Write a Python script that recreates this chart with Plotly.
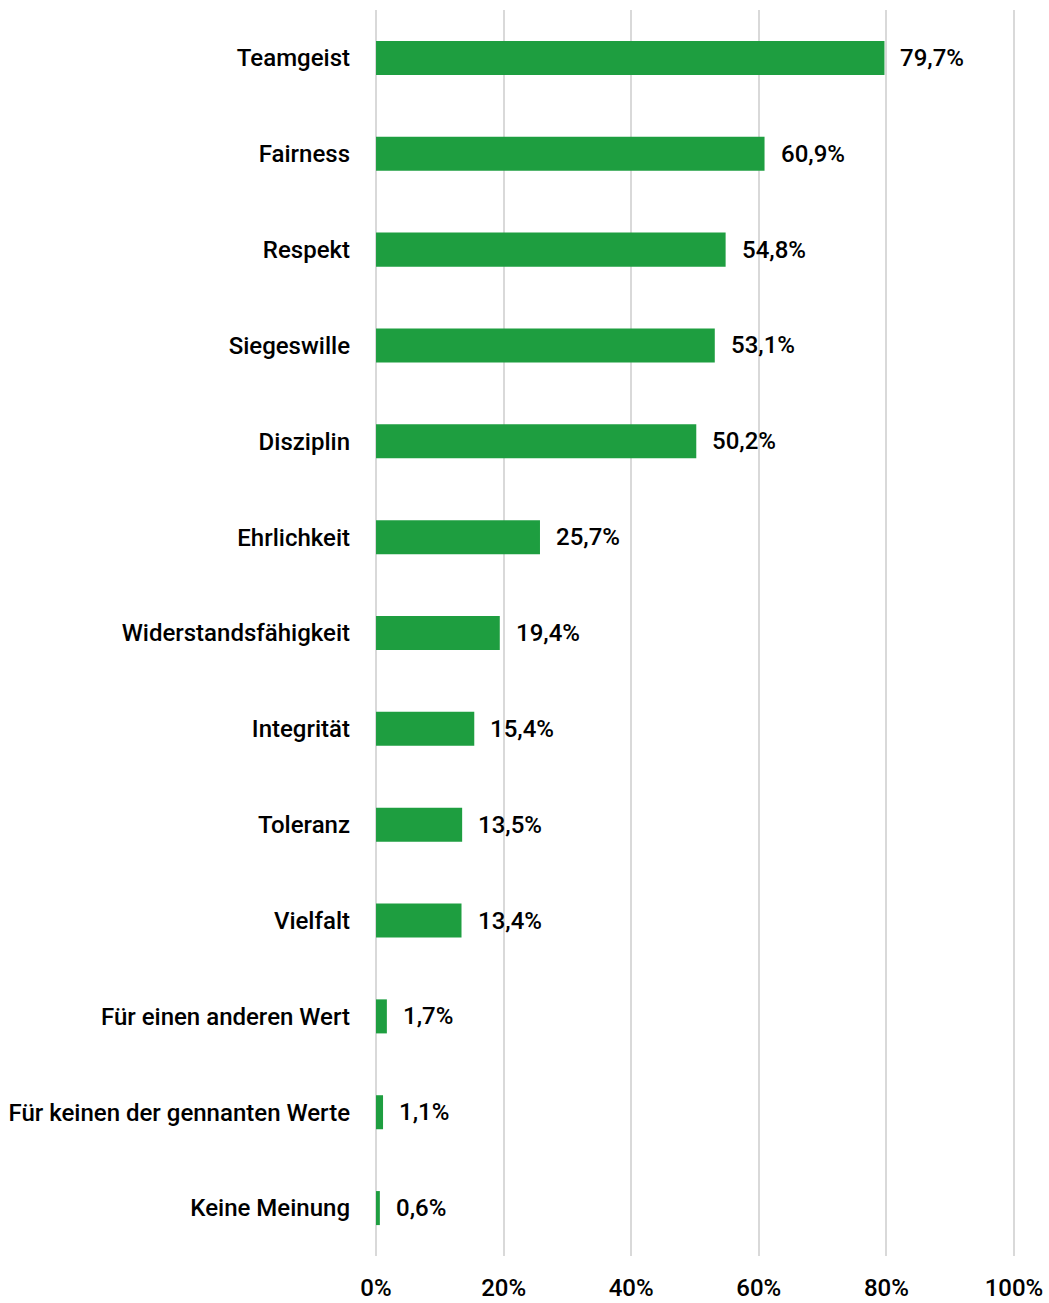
import plotly.graph_objects as go

categories = ["Teamgeist", "Fairness", "Respekt", "Siegeswille", "Disziplin", "Ehrlichkeit",
              "Widerstandsfähigkeit", "Integrität", "Toleranz", "Vielfalt",
              "Für einen anderen Wert", "Für keinen der gennanten Werte", "Keine Meinung"]
values = [79.7, 60.9, 54.8, 53.1, 50.2, 25.7, 19.4, 15.4, 13.5, 13.4, 1.7, 1.1, 0.6]
value_labels = ["79,7%", "60,9%", "54,8%", "53,1%", "50,2%", "25,7%", "19,4%", "15,4%",
                "13,5%", "13,4%", "1,7%", "1,1%", "0,6%"]
tick_vals = [0, 20, 40, 60, 80, 100]
tick_text = ["0%", "20%", "40%", "60%", "80%", "100%"]

FONT = "Roboto, Arial, sans-serif"

fig = go.Figure(go.Bar(
    x=values, y=categories, orientation="h",
    marker=dict(color="#1e9e40", line=dict(width=0)),
    hoverinfo="skip",
))

for v, c, t in zip(values, categories, value_labels):
    fig.add_annotation(x=v, y=c, text=t, showarrow=False, xanchor="left",
                       xshift=14, font=dict(family=FONT, size=24, color="#000000", weight=500))

fig.update_layout(
    width=1049, height=1303,
    margin=dict(l=375, r=34, t=10, b=47, autoexpand=False),
    plot_bgcolor="white", paper_bgcolor="white",
    bargap=0.645,
    showlegend=False,
    font=dict(family=FONT, size=24, color="#000000", weight=500),
)
fig.update_xaxes(range=[-0.16, 100.16], tickvals=tick_vals, ticktext=tick_text,
                 showgrid=True, gridcolor="#d9d9d9", gridwidth=2, zeroline=False,
                 showline=False, ticks="", ticklabelstandoff=15, automargin=False,
                 tickfont=dict(family=FONT, size=24, color="#000000", weight=500))
fig.update_yaxes(autorange="reversed", showgrid=False, zeroline=False, showline=False,
                 ticks="", ticklabelstandoff=24, automargin=False,
                 tickfont=dict(family=FONT, size=24, color="#000000", weight=500))

fig.write_html("out.html")
